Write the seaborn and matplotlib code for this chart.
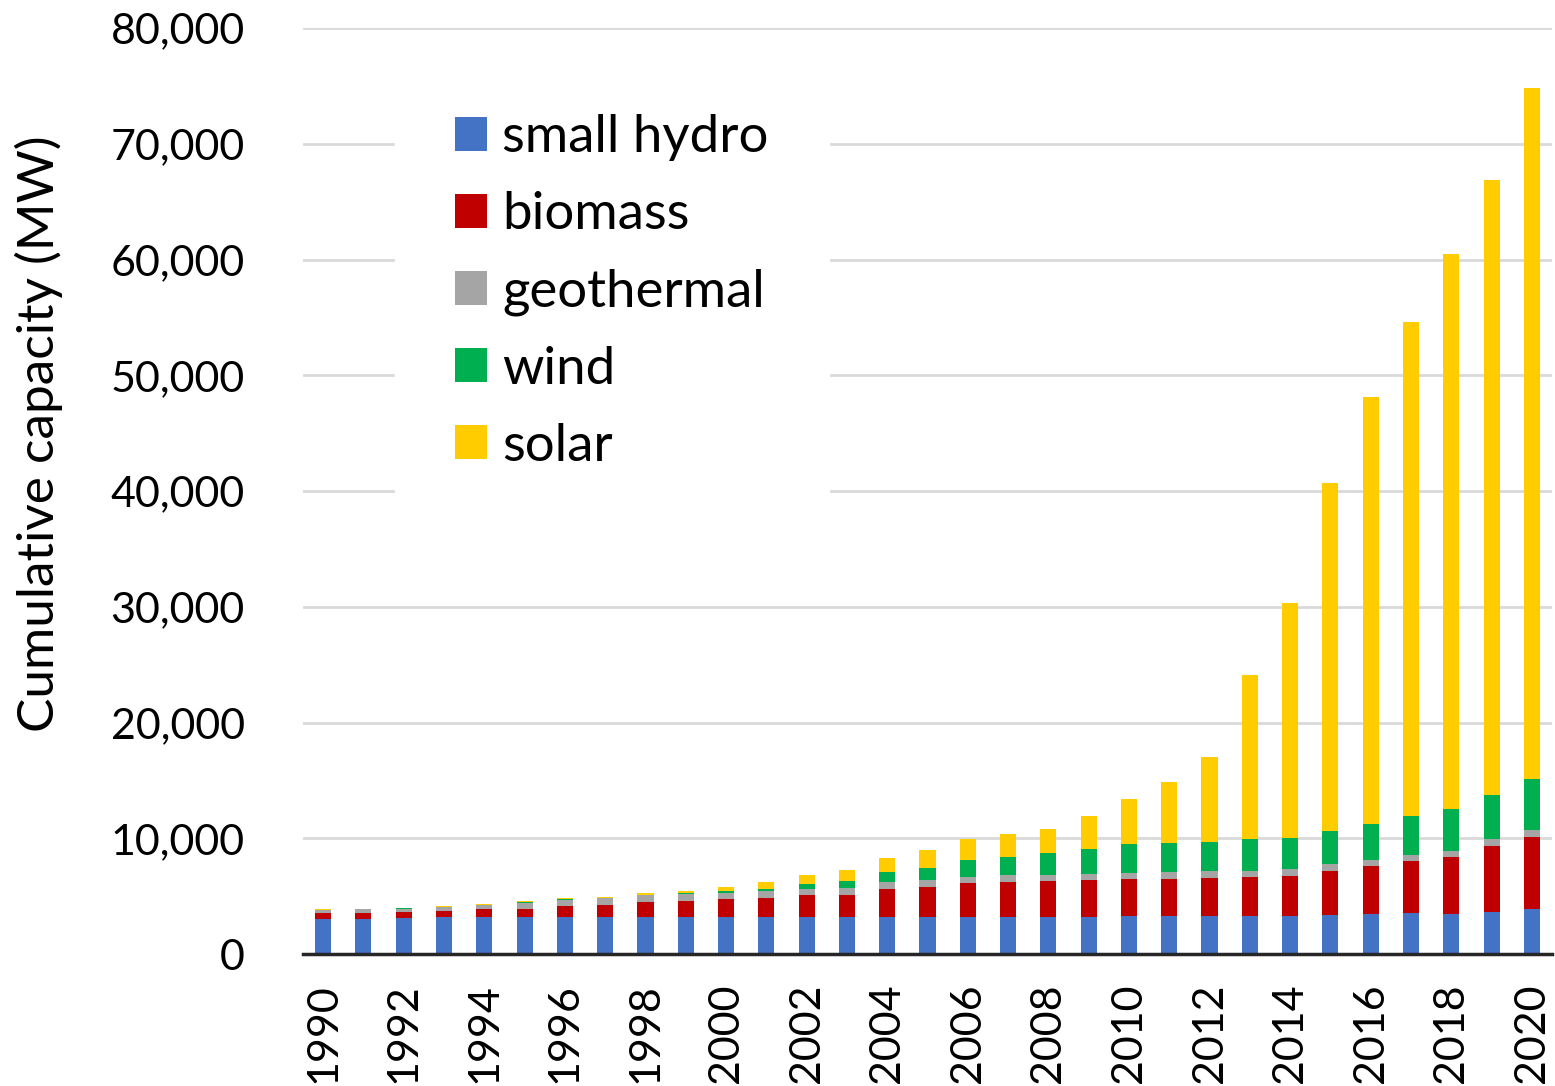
import numpy as np
import pandas as pd
import seaborn as sns
import matplotlib
matplotlib.use("Agg")
import matplotlib.pyplot as plt
from matplotlib.patches import Patch
from matplotlib.ticker import FuncFormatter

years = list(range(1990, 2021))

small_hydro = [3050, 3050, 3110, 3200, 3200, 3200, 3200, 3200, 3200, 3200,
               3200, 3200, 3200, 3200, 3200, 3200, 3200, 3200, 3200, 3200,
               3280, 3280, 3280, 3280, 3310, 3370, 3480, 3540, 3480, 3660, 3860]
biomass = [490, 520, 540, 540, 660, 710, 950, 1060, 1320, 1410,
           1580, 1640, 1870, 1930, 2450, 2620, 2910, 3050, 3110, 3220,
           3200, 3230, 3290, 3400, 3450, 3830, 4150, 4520, 4930, 5670, 6220]
geothermal = [235, 290, 260, 290, 370, 520, 540, 580, 580, 550,
              520, 570, 550, 550, 550, 560, 550, 550, 550, 490,
              550, 550, 570, 520, 580, 580, 520, 520, 520, 580, 610]
wind = [50, 20, 30, 30, 30, 40, 30, 40, 40, 70,
        140, 240, 460, 660, 890, 1050, 1470, 1610, 1870, 2160,
        2450, 2560, 2560, 2700, 2710, 2870, 3110, 3370, 3600, 3850, 4460]
solar = [60, 20, 30, 60, 90, 110, 90, 70, 130, 240,
         350, 570, 750, 920, 1210, 1530, 1810, 1990, 2110, 2850,
         3890, 5230, 7320, 14200, 20280, 30050, 36860, 42630, 47920, 53110, 59700]

series_names = ["small hydro", "biomass", "geothermal", "wind", "solar"]
series_values = [small_hydro, biomass, geothermal, wind, solar]
series_colors = ["#4472C4", "#C00000", "#A5A5A5", "#00B050", "#FFCC00"]

y_ticks = list(range(0, 80001, 10000))

FONT = "Lato"
TICK_FS = 31
LEGEND_FS = 38
YLABEL_FS = 37

sns.set_theme(style="white")
plt.rcParams["font.family"] = [FONT, "DejaVu Sans"]

# cumulative tops of each stacked layer
stack = np.cumsum(np.array(series_values, dtype=float), axis=0)
df = pd.DataFrame({"year": [str(y) for y in years]})
for name, top in zip(series_names, stack):
    df[name] = top

fig = plt.figure(figsize=(15.55, 10.86), dpi=100)
ax = fig.add_axes([303 / 1555, 1 - 954 / 1086, 1249 / 1555, 926 / 1086])

# draw from the tallest layer down so each lower layer overlays the one above
for name, color in reversed(list(zip(series_names, series_colors))):
    sns.barplot(data=df, x="year", y=name, color=color, saturation=1,
                width=0.4, errorbar=None, ax=ax, zorder=3, linewidth=0)

ax.set_xlim(-0.5, len(years) - 0.5)
ax.set_ylim(0, 80000)
ax.set_yticks(y_ticks)
ax.yaxis.set_major_formatter(FuncFormatter(lambda v, p: f"{int(v):,}"))
ax.set_xticks(range(0, len(years), 2))
ax.set_xticklabels([str(y) for y in years[::2]], rotation=90)

ax.grid(axis="y", color="#D9D9D9", linewidth=2, zorder=0)
ax.grid(axis="x", visible=False)
ax.set_axisbelow(True)
for side in ["left", "right", "top"]:
    ax.spines[side].set_visible(False)
ax.spines["bottom"].set_color("#262626")
ax.spines["bottom"].set_linewidth(2.5)
ax.spines["bottom"].set_zorder(5)

ax.tick_params(axis="y", length=0, pad=42, labelsize=TICK_FS, labelcolor="black")
ax.tick_params(axis="x", length=0, pad=21, labelsize=TICK_FS, labelcolor="black")

ax.set_xlabel("")
ax.set_ylabel("Cumulative capacity (MW)", fontsize=YLABEL_FS, color="black")
ax.yaxis.set_label_coords(-0.192, 0.562)

handles = [Patch(facecolor=c, edgecolor="none", label=n)
           for n, c in zip(series_names, series_colors)]
leg = ax.legend(handles=handles, loc="upper left",
                bbox_to_anchor=(92 / 1249, 1 - 26 / 926),
                fontsize=LEGEND_FS, labelcolor="black", frameon=True,
                fancybox=False, facecolor="white", edgecolor="white",
                framealpha=1, borderpad=1.14, borderaxespad=0,
                handlelength=0.61, handleheight=0.61, handletextpad=0.28,
                labelspacing=0.57)
leg.set_zorder(4)

fig.savefig("out.png", dpi=100, facecolor="white")
